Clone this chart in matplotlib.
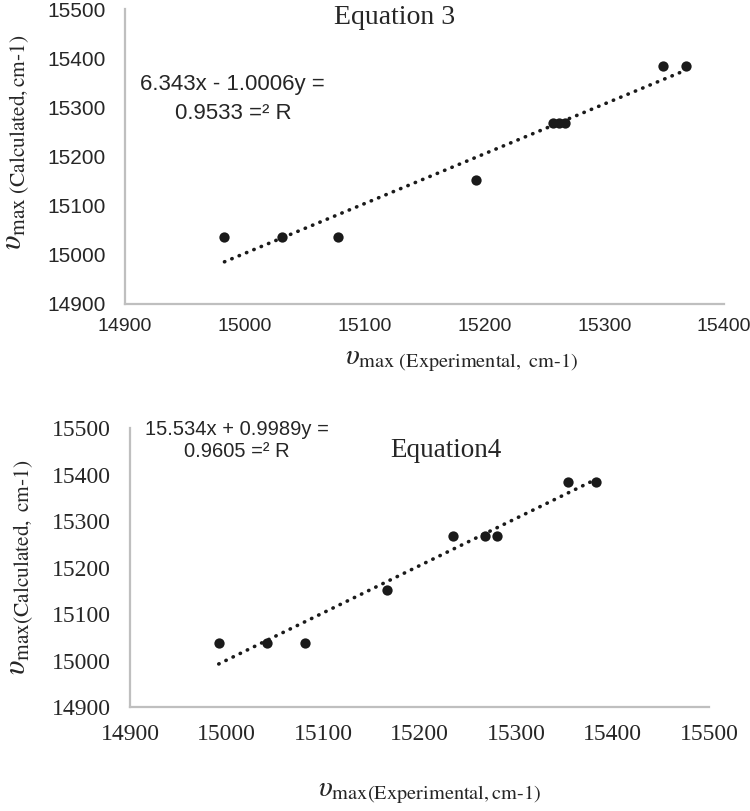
import numpy as np
import matplotlib
matplotlib.use('Agg')
import matplotlib.pyplot as plt

plt.rcParams['mathtext.fontset'] = 'stix'

# Equation 3
exp3 = [14983, 15031, 15078, 15193, 15257, 15262, 15267, 15349, 15368]
calc3 = [15037, 15037, 15037, 15152, 15268, 15268, 15268, 15385, 15385]
# Equation 4
exp4 = [14992, 15042, 15081, 15166, 15235, 15268, 15280, 15354, 15383]
calc4 = [15037, 15037, 15037, 15152, 15268, 15268, 15268, 15385, 15385]

xticks3 = [14900, 15000, 15100, 15200, 15300, 15400]
xticks4 = [14900, 15000, 15100, 15200, 15300, 15400, 15500]
yticks = [14900, 15000, 15100, 15200, 15300, 15400, 15500]

GRAY = '#bfbfbf'
TXT = '#262626'

fig = plt.figure(figsize=(7.5, 8.11), dpi=100)


def style(ax, xt, font, ysize, xsize, xpad=12):
    for s in ['top', 'right']:
        ax.spines[s].set_visible(False)
    for s in ['left', 'bottom']:
        ax.spines[s].set_color(GRAY)
        ax.spines[s].set_linewidth(1.6)
    ax.set_xticks(xt)
    ax.set_yticks(yticks)
    ax.set_xlim(xt[0], xt[-1])
    ax.set_ylim(yticks[0], yticks[-1])
    ax.tick_params(length=0, colors=TXT)
    ax.tick_params(axis='y', pad=14)
    ax.tick_params(axis='x', pad=xpad)
    for lab in ax.get_yticklabels():
        lab.set_fontfamily(font)
        lab.set_fontsize(ysize)
        lab.set_color(TXT)
    for lab in ax.get_xticklabels():
        lab.set_fontfamily(font)
        lab.set_fontsize(xsize)
        lab.set_color(TXT)


def trend(ax, x, y):
    k, b = np.polyfit(x, y, 1)
    xs = np.array([min(x), max(x)])
    ax.plot(xs, k * xs + b, color='#1a1a1a', lw=2.6,
            linestyle=(0, (0.1, 2.1)), dash_capstyle='round', zorder=2)
    ax.scatter(x, y, s=55, color='#1a1a1a', zorder=3, linewidths=0)


# top panel
ax1 = fig.add_axes([0.1667, 0.6252, 0.7987, 0.3637])
style(ax1, xticks3, 'Liberation Sans', 15, 14, xpad=10)
trend(ax1, exp3, calc3)
ax1.text(0.45, 0.97, 'Equation 3', transform=ax1.transAxes, ha='center',
         va='center', fontsize=20, family='Liberation Serif', color=TXT)
ax1.text(0.18, 0.695, '6.343x - 1.0006y =\n0.9533 =\u00b2 R', transform=ax1.transAxes,
         ha='center', va='center', fontsize=16, family='Liberation Sans',
         color=TXT, linespacing=1.45)
fig.text(0.615, 0.556, r'$\upsilon_{\rm max\ (Experimental,\ cm\text{-}1)}$', ha='center',
         va='center', fontsize=21, color=TXT)
fig.text(0.022, 0.825, r'$\upsilon_{\rm max\ (Calculated,cm\text{-}1)}$', ha='center',
         va='center', fontsize=22, color=TXT, rotation=90)

# bottom panel
ax2 = fig.add_axes([0.1733, 0.1282, 0.772, 0.344])
style(ax2, xticks4, 'Liberation Serif', 17, 17)
trend(ax2, exp4, calc4)
ax2.text(0.545, 0.92, 'Equation4', transform=ax2.transAxes, ha='center',
         va='center', fontsize=19.5, family='Liberation Serif', color=TXT)
ax2.text(0.185, 0.955, '15.534x + 0.9989y =\n0.9605 =\u00b2 R', transform=ax2.transAxes,
         ha='center', va='center', fontsize=14.5, family='Liberation Sans',
         color=TXT, linespacing=1.25)
fig.text(0.573, 0.024, r'$\upsilon_{\rm max(Experimental,cm\text{-}1)}$', ha='center',
         va='center', fontsize=21, color=TXT)
fig.text(0.027, 0.3, r'$\upsilon_{\rm max(Calculated,\ cm\text{-}1)}$', ha='center',
         va='center', fontsize=22, color=TXT, rotation=90)

fig.savefig('out.png', dpi=100)
